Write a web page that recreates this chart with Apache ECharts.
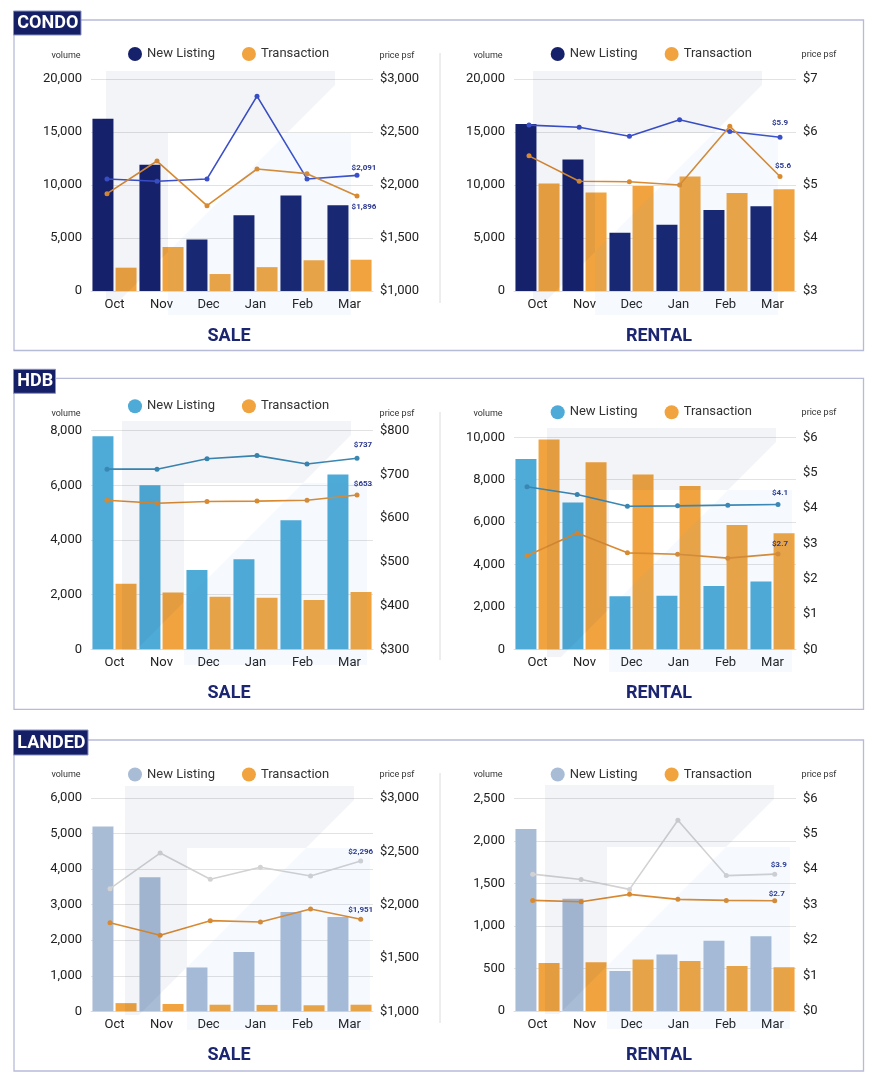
<!DOCTYPE html>
<html>
<head>
<meta charset="utf-8">
<script src="https://cdn.jsdelivr.net/npm/echarts@6/dist/echarts.min.js"></script>
<style>
html,body{margin:0;padding:0;background:#fff;}
#chart{width:880px;height:1086px;}
</style>
</head>
<body>
<div id="chart"></div>
<script>
// ---------- DATA ----------
const months = ['Oct', 'Nov', 'Dec', 'Jan', 'Feb', 'Mar'];

const condoSaleListing = [16250, 11900, 4850, 7150, 9000, 8100];
const condoSaleTransaction = [2200, 4150, 1600, 2250, 2900, 2950];
const condoSaleListingPsf = [2057, 2036, 2057, 2838, 2057, 2091];
const condoSaleTransactionPsf = [1918, 2226, 1805, 2151, 2107, 1896];
const condoSaleLabels = ['$2,091', '$1,896'];

const condoRentListing = [15750, 12400, 5500, 6250, 7650, 8000];
const condoRentTransaction = [10150, 9300, 9900, 10800, 9250, 9600];
const condoRentListingPsf = [6.13, 6.09, 5.92, 6.23, 6.01, 5.90];
const condoRentTransactionPsf = [5.55, 5.07, 5.06, 5.00, 6.11, 5.16];
const condoRentLabels = ['$5.9', '$5.6'];

const hdbSaleListing = [7800, 6000, 2900, 3300, 4720, 6400];
const hdbSaleTransaction = [2400, 2080, 1920, 1890, 1800, 2100];
const hdbSaleListingPsf = [712, 712, 736, 743, 724, 737];
const hdbSaleTransactionPsf = [641, 634, 638, 639, 641, 653];
const hdbSaleLabels = ['$737', '$653'];

const hdbRentListing = [8980, 6930, 2500, 2530, 2990, 3200];
const hdbRentTransaction = [9900, 8820, 8250, 7700, 5860, 5470];
const hdbRentListingPsf = [4.60, 4.38, 4.05, 4.06, 4.08, 4.10];
const hdbRentTransactionPsf = [2.65, 3.29, 2.73, 2.69, 2.58, 2.70];
const hdbRentLabels = ['$4.1', '$2.7'];

const landedSaleListing = [5200, 3770, 1230, 1670, 2790, 2650];
const landedSaleTransaction = [230, 205, 185, 180, 170, 185];
const landedSaleListingPsf = [2150, 2484, 2238, 2350, 2269, 2409];
const landedSaleTransactionPsf = [1831, 1713, 1850, 1837, 1959, 1863];
const landedSaleLabels = ['$2,296', '$1,951'];

const landedRentListing = [2140, 1320, 470, 665, 825, 880];
const landedRentTransaction = [565, 572, 605, 588, 529, 513];
const landedRentListingPsf = [3.86, 3.71, 3.43, 5.38, 3.82, 3.86];
const landedRentTransactionPsf = [3.12, 3.08, 3.29, 3.15, 3.12, 3.11];
const landedRentLabels = ['$3.9', '$2.7'];

const sectionNames = ['CONDO', 'HDB', 'LANDED'];
const chartTitles = ['SALE', 'RENTAL'];
const legendNames = ['New Listing', 'Transaction'];

// ---------- STYLE / LAYOUT ----------
const FONT = 'Roboto, "Noto Sans", sans-serif';
const NAVY = '#141f66';
const ORANGE = '#f0a33f';
const ORANGE_LINE = '#d98a30';
const palettes = {
  condo: { bar: '#16216b', line: '#3a4fc9' },
  hdb: { bar: '#4eaad6', line: '#3a87b3' },
  landed: { bar: '#a9bcd5', line: '#d2d2d2' }
};

const charts = [
  { key: 'cs', pal: 'condo', title: 0, listing: condoSaleListing, trans: condoSaleTransaction, lpsf: condoSaleListingPsf, tpsf: condoSaleTransactionPsf, labels: condoSaleLabels,
    yMax: 20000, yInt: 5000, rMin: 1000, rMax: 3000, rInt: 500,
    barLeft: 91, lineLeft: 107, lineRight: 357, top: 79, bottom: 291, legend: [128, 47], vol: [66, 56], psf: [397, 56], tpos: [229, 336], wm: [106, 71], offs: [[7, -7], [7, 11]] },
  { key: 'cr', pal: 'condo', title: 1, listing: condoRentListing, trans: condoRentTransaction, lpsf: condoRentListingPsf, tpsf: condoRentTransactionPsf, labels: condoRentLabels,
    yMax: 20000, yInt: 5000, rMin: 3, rMax: 7, rInt: 1,
    barLeft: 514, lineLeft: 529, lineRight: 780, top: 79, bottom: 291, legend: [550.7, 47], vol: [488, 56], psf: [819, 55], tpos: [659, 336], wm: [533, 71], offs: [[0, -14], [3, -11]] },
  { key: 'hs', pal: 'hdb', title: 0, listing: hdbSaleListing, trans: hdbSaleTransaction, lpsf: hdbSaleListingPsf, tpsf: hdbSaleTransactionPsf, labels: hdbSaleLabels,
    yMax: 8000, yInt: 2000, rMin: 300, rMax: 800, rInt: 100,
    barLeft: 91, lineLeft: 107, lineRight: 357, top: 430.7, bottom: 649.3, legend: [128, 399.2], vol: [66, 413.7], psf: [397, 413.7], tpos: [229, 693.3], wm: [122, 421], offs: [[6, -13], [6, -11]] },
  { key: 'hr', pal: 'hdb', title: 1, listing: hdbRentListing, trans: hdbRentTransaction, lpsf: hdbRentListingPsf, tpsf: hdbRentTransactionPsf, labels: hdbRentLabels,
    yMax: 10000, yInt: 2000, rMin: 0, rMax: 6, rInt: 1,
    barLeft: 514, lineLeft: 527, lineRight: 778, top: 437.3, bottom: 649.3, legend: [550.7, 405.2], vol: [488, 413.7], psf: [819, 412.7], tpos: [659, 693.3], wm: [547, 428], offs: [[2, -11], [2, -10]] },
  { key: 'ls', pal: 'landed', title: 0, listing: landedSaleListing, trans: landedSaleTransaction, lpsf: landedSaleListingPsf, tpsf: landedSaleTransactionPsf, labels: landedSaleLabels,
    yMax: 6000, yInt: 1000, rMin: 1000, rMax: 3000, rInt: 500,
    barLeft: 91, lineLeft: 110, lineRight: 360.7, top: 798, bottom: 1011.3, legend: [128, 767.5], vol: [66, 775], psf: [397, 775], tpos: [229, 1055.7], wm: [125, 786], offs: [[0, -9], [0, -9]] },
  { key: 'lr', pal: 'landed', title: 1, listing: landedRentListing, trans: landedRentTransaction, lpsf: landedRentListingPsf, tpsf: landedRentTransactionPsf, labels: landedRentLabels,
    yMax: 2500, yInt: 500, rMin: 0, rMax: 6, rInt: 1,
    barLeft: 514, lineLeft: 532.7, lineRight: 774.7, top: 798.3, bottom: 1011, legend: [550.7, 767.5], vol: [488, 775], psf: [819, 775], tpos: [659, 1055.7], wm: [545, 785], offs: [[4, -9], [2, -7]] }
];

const panels = [
  { y: 20, h: 330.5, box: [13.5, 11, 67.5, 24], divider: [53, 303] },
  { y: 378.3, h: 331, box: [13.5, 369.3, 42, 24], divider: [412, 660] },
  { y: 740, h: 331, box: [13.5, 730, 74.5, 25], divider: [773, 1023] }
];

// ---------- BUILD OPTION ----------
const grid = [], xAxis = [], yAxis = [], series = [], legend = [], graphic = [];

function fmtThousands(v) { return Number(v).toLocaleString('en-US'); }

charts.forEach((c, i) => {
  const pal = palettes[c.pal];
  const h = c.bottom - c.top;
  grid.push({ left: c.barLeft, top: c.top, width: 282, height: h });
  grid.push({ left: c.lineLeft, top: c.top, width: c.lineRight - c.lineLeft, height: h });

  xAxis.push({
    type: 'category', gridIndex: 2 * i, data: months,
    axisLine: { show: true, lineStyle: { color: '#dedede' } },
    axisTick: { show: false },
    axisLabel: { color: '#222', fontSize: 13, margin: 7, fontFamily: FONT }
  });
  xAxis.push({ type: 'category', gridIndex: 2 * i + 1, data: months, boundaryGap: false, show: false });

  yAxis.push({
    type: 'value', gridIndex: 2 * i, position: 'left', min: 0, max: c.yMax, interval: c.yInt,
    axisLine: { show: false }, axisTick: { show: false },
    splitLine: { lineStyle: { color: '#e2e2e2' } },
    axisLabel: { color: '#222', fontSize: 13, margin: 9, fontFamily: FONT, formatter: fmtThousands }
  });
  yAxis.push({
    type: 'value', gridIndex: 2 * i, position: 'right', min: c.rMin, max: c.rMax, interval: c.rInt,
    axisLine: { show: false }, axisTick: { show: false }, splitLine: { show: false },
    axisLabel: { color: '#222', fontSize: 13, margin: 7, fontFamily: FONT, formatter: v => '$' + fmtThousands(v) }
  });
  yAxis.push({ type: 'value', gridIndex: 2 * i + 1, min: c.rMin, max: c.rMax, show: false, splitLine: { show: false } });

  const nlName = c.key + '|' + legendNames[0];
  const trName = c.key + '|' + legendNames[1];
  series.push({
    name: nlName, type: 'bar', xAxisIndex: 2 * i, yAxisIndex: 3 * i,
    data: c.listing, barWidth: 21, barGap: '10%', itemStyle: { color: pal.bar }
  });
  series.push({
    name: trName, type: 'bar', xAxisIndex: 2 * i, yAxisIndex: 3 * i,
    data: c.trans, barWidth: 21, barGap: '10%', itemStyle: { color: ORANGE }
  });

  function lineData(arr, k) {
    return arr.map((v, j) => j === arr.length - 1 ? {
      value: v,
      label: {
        show: true, position: 'inside', offset: c.offs[k], formatter: c.labels[k],
        color: '#2b388f', fontSize: 8, fontWeight: 'bold', fontFamily: FONT
      }
    } : v);
  }
  series.push({
    name: c.key + '|lpsf', type: 'line', xAxisIndex: 2 * i + 1, yAxisIndex: 3 * i + 2,
    data: lineData(c.lpsf, 0), symbol: 'circle', symbolSize: 5, z: 5,
    lineStyle: { color: pal.line, width: 1.6 }, itemStyle: { color: pal.line }
  });
  series.push({
    name: c.key + '|tpsf', type: 'line', xAxisIndex: 2 * i + 1, yAxisIndex: 3 * i + 2,
    data: lineData(c.tpsf, 1), symbol: 'circle', symbolSize: 5, z: 5,
    lineStyle: { color: ORANGE_LINE, width: 1.6 }, itemStyle: { color: ORANGE_LINE }
  });

  legend.push({
    data: [nlName, trName], left: c.legend[0], top: c.legend[1], orient: 'horizontal', padding: 0,
    icon: 'circle', itemWidth: 14, itemHeight: 14, itemGap: 27, selectedMode: false,
    formatter: n => n.split('|')[1],
    textStyle: { fontSize: 13, color: '#333', fontFamily: FONT }
  });

  // axis captions & chart title
  graphic.push({ type: 'text', silent: true, style: { text: 'volume', x: c.vol[0], y: c.vol[1], textAlign: 'center', textVerticalAlign: 'middle', font: '9px ' + FONT, fill: '#333' } });
  graphic.push({ type: 'text', silent: true, style: { text: 'price psf', x: c.psf[0], y: c.psf[1], textAlign: 'center', textVerticalAlign: 'middle', font: '9px ' + FONT, fill: '#333' } });
  graphic.push({ type: 'text', silent: true, style: { text: chartTitles[c.title], x: c.tpos[0], y: c.tpos[1], textAlign: 'center', textVerticalAlign: 'middle', font: 'bold 18px ' + FONT, fill: '#1b2570' } });

  // faint watermark overlay
  const gx = c.wm[0], gy = c.wm[1];
  graphic.push({
    type: 'polygon', silent: true, z: 100,
    shape: { points: [[gx, gy], [gx + 229, gy], [gx + 229, gy + 14], [gx + 181, gy + 62], [gx + 62, gy + 62], [gx + 62, gy + 181], [gx + 14, gy + 229], [gx, gy + 229]] },
    style: { fill: 'rgba(20,30,100,0.05)' }
  });
  graphic.push({
    type: 'polygon', silent: true, z: 100,
    shape: { points: [[gx + 181, gy + 62], [gx + 245, gy + 62], [gx + 245, gy + 244], [gx + 62, gy + 244], [gx + 62, gy + 181]] },
    style: { fill: 'rgba(100,160,230,0.055)' }
  });
});

panels.forEach((p, k) => {
  graphic.push({ type: 'rect', silent: true, shape: { x: 14, y: p.y, width: 849.5, height: p.h }, style: { fill: 'none', stroke: '#b7bbd7', lineWidth: 1.3 } });
  graphic.push({ type: 'line', silent: true, shape: { x1: 440, y1: p.divider[0], x2: 440, y2: p.divider[1] }, style: { stroke: '#dcdcdc', lineWidth: 1 } });
  graphic.push({ type: 'rect', silent: true, z: 10, shape: { x: p.box[0], y: p.box[1], width: p.box[2], height: p.box[3] }, style: { fill: NAVY, stroke: '#8a91c2', lineWidth: 1 } });
  graphic.push({ type: 'text', silent: true, z: 11, style: { text: sectionNames[k], x: p.box[0] + 3.8, y: p.box[1] + p.box[3] / 2 + 0.5, textAlign: 'left', textVerticalAlign: 'middle', font: 'bold 18px ' + FONT, fill: '#fff' } });
});

const option = {
  animation: false,
  backgroundColor: '#fff',
  textStyle: { fontFamily: FONT },
  grid, xAxis, yAxis, series, legend, graphic
};

const chart = echarts.init(document.getElementById('chart'), null, { renderer: 'canvas' });
chart.setOption(option);
</script>
</body>
</html>
